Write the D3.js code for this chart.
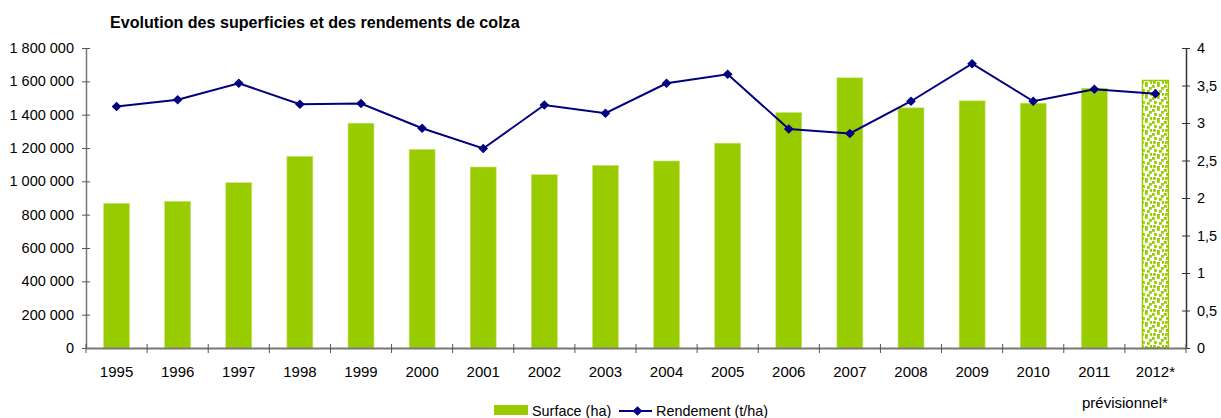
<!DOCTYPE html>
<html>
<head>
<meta charset="utf-8">
<script src="https://cdn.jsdelivr.net/npm/d3@7"></script>
<style>
  body { margin: 0; background: #fff; }
  text { font-family: Arial, "Liberation Sans", sans-serif; }
</style>
</head>
<body>
<div id="chart"></div>
<script>
/* DATA */
const years = ["1995", "1996", "1997", "1998", "1999", "2000", "2001", "2002", "2003",
  "2004", "2005", "2006", "2007", "2008", "2009", "2010", "2011", "2012*"];
const surface = [868000, 880000, 992000, 1150000, 1349000, 1192000, 1086000, 1040000, 1096000,
  1122000, 1229000, 1413000, 1621000, 1441000, 1483000, 1469000, 1559000, 1605000];
const rendement = [3.22, 3.31, 3.53, 3.25, 3.26, 2.93, 2.66, 3.24, 3.13,
  3.53, 3.65, 2.92, 2.86, 3.29, 3.79, 3.29, 3.45, 3.39];
const leftTicks = [0, 200000, 400000, 600000, 800000, 1000000, 1200000, 1400000, 1600000, 1800000];
const rightTicks = [0, 0.5, 1, 1.5, 2, 2.5, 3, 3.5, 4];
const forecastYear = "2012*";

/* CONSTANTS */
const width = 1221,
  height = 418,
  margin = ({top: 48, right: 35, bottom: 70, left: 86});

const green = "#99cc00",
  navy = "#000080";

const fr = d3.formatLocale({decimal: ",", thousands: "\u00a0", grouping: [3], currency: ["", " €"]});

const svg = d3.select("#chart")
  .append("svg")
  .attr("width", width)
  .attr("height", height);

// confetti pattern for the provisional bar
const defs = svg.append("defs");
const pat = defs.append("pattern")
  .attr("id", "confetti")
  .attr("patternUnits", "userSpaceOnUse")
  .attr("width", 12)
  .attr("height", 12);
pat.append("rect").attr("width", 12).attr("height", 12).attr("fill", "#fff");
[[0, 1], [5, 0], [9, 3], [2, 5], [7, 6], [10, 9], [1, 9], [5, 10]].forEach(([px, py]) => {
  pat.append("rect")
    .attr("x", px).attr("y", py)
    .attr("width", 2.8).attr("height", 2.8)
    .attr("fill", green);
});

const x = d3.scaleBand()
  .domain(years)
  .range([margin.left, width - margin.right]);

const y = d3.scaleLinear()
  .domain([0, 1800000])
  .range([height - margin.bottom, margin.top]);

const y2 = d3.scaleLinear()
  .domain([0, 4])
  .range([height - margin.bottom, margin.top]);

const barW = x.bandwidth() * 0.425;

// bars
svg.append("g")
  .selectAll("rect")
  .data(years)
  .join("rect")
  .attr("x", d => x(d) + (x.bandwidth() - barW) / 2)
  .attr("y", (d, i) => y(surface[i]))
  .attr("width", barW)
  .attr("height", (d, i) => y(0) - y(surface[i]))
  .attr("fill", d => d === forecastYear ? "url(#confetti)" : green)
  .attr("stroke", d => d === forecastYear ? green : "#c8e47a")
  .attr("stroke-width", d => d === forecastYear ? 1.5 : 0.6);

// axes
const tickLen = 4;
const leftAxis = svg.append("g")
  .attr("transform", `translate(${margin.left},0)`)
  .call(d3.axisLeft(y).tickValues(leftTicks).tickFormat(fr.format(",d")).tickSizeInner(tickLen).tickSizeOuter(0).tickPadding(8));

const rightAxis = svg.append("g")
  .attr("transform", `translate(${width - margin.right},0)`)
  .call(d3.axisRight(y2).tickValues(rightTicks).tickFormat(d => fr.format(",")(d)).tickSizeInner(tickLen).tickSizeOuter(0).tickPadding(7));

const xAxis = svg.append("g")
  .attr("transform", `translate(0,${height - margin.bottom})`)
  .call(d3.axisBottom(x).tickSize(0).tickPadding(18));

// cross tick marks, Excel style
leftAxis.selectAll(".tick line").attr("x1", tickLen).attr("stroke", "#555");
rightAxis.selectAll(".tick line").attr("x1", -tickLen).attr("stroke", "#333");

xAxis.append("g")
  .selectAll("line")
  .data(years.concat([null]))
  .join("line")
  .attr("x1", (d, i) => margin.left + i * x.step())
  .attr("x2", (d, i) => margin.left + i * x.step())
  .attr("y1", -tickLen)
  .attr("y2", tickLen + 1)
  .attr("stroke", "#555");

leftAxis.select(".domain").attr("stroke", "#777").attr("stroke-width", 1.5);
rightAxis.select(".domain").attr("stroke", "#333").attr("stroke-width", 1.5);
xAxis.select(".domain").attr("stroke", "#777").attr("stroke-width", 2);

[leftAxis, rightAxis].forEach(a => a.selectAll("text")
  .style("font-size", "14.5px")
  .attr("fill", "#000"));
xAxis.selectAll("text")
  .style("font-size", "15px")
  .attr("fill", "#000");

// line
const pts = years.map((d, i) => [x(d) + x.bandwidth() / 2, y2(rendement[i])]);
svg.append("path")
  .attr("d", d3.line()(pts))
  .attr("fill", "none")
  .attr("stroke", navy)
  .attr("stroke-width", 2);

const diamond = d3.symbol().type(d3.symbolDiamond2).size(60);
svg.append("g")
  .selectAll("path")
  .data(pts)
  .join("path")
  .attr("transform", d => `translate(${d[0]},${d[1]})`)
  .attr("d", diamond)
  .attr("fill", navy);

// title
svg.append("text")
  .text("Evolution des superficies et des rendements de colza")
  .attr("x", 110)
  .attr("y", 28)
  .style("font-size", "16.1px")
  .style("font-weight", "bold");

// legend
const lg = svg.append("g").attr("transform", "translate(494,0)");
lg.append("rect")
  .attr("x", 0).attr("y", 405)
  .attr("width", 34).attr("height", 10)
  .attr("fill", green);
lg.append("text")
  .text("Surface (ha)")
  .attr("x", 38).attr("y", 416)
  .style("font-size", "14.4px");
lg.append("line")
  .attr("x1", 125).attr("x2", 158)
  .attr("y1", 411).attr("y2", 411)
  .attr("stroke", navy).attr("stroke-width", 2);
lg.append("path")
  .attr("transform", "translate(143.5,411)")
  .attr("d", diamond)
  .attr("fill", navy);
lg.append("text")
  .text("Rendement (t/ha)")
  .attr("x", 162).attr("y", 416)
  .style("font-size", "14.4px");

svg.append("text")
  .text("prévisionnel*")
  .attr("x", 1082)
  .attr("y", 408)
  .style("font-size", "15px");
</script>
</body>
</html>
